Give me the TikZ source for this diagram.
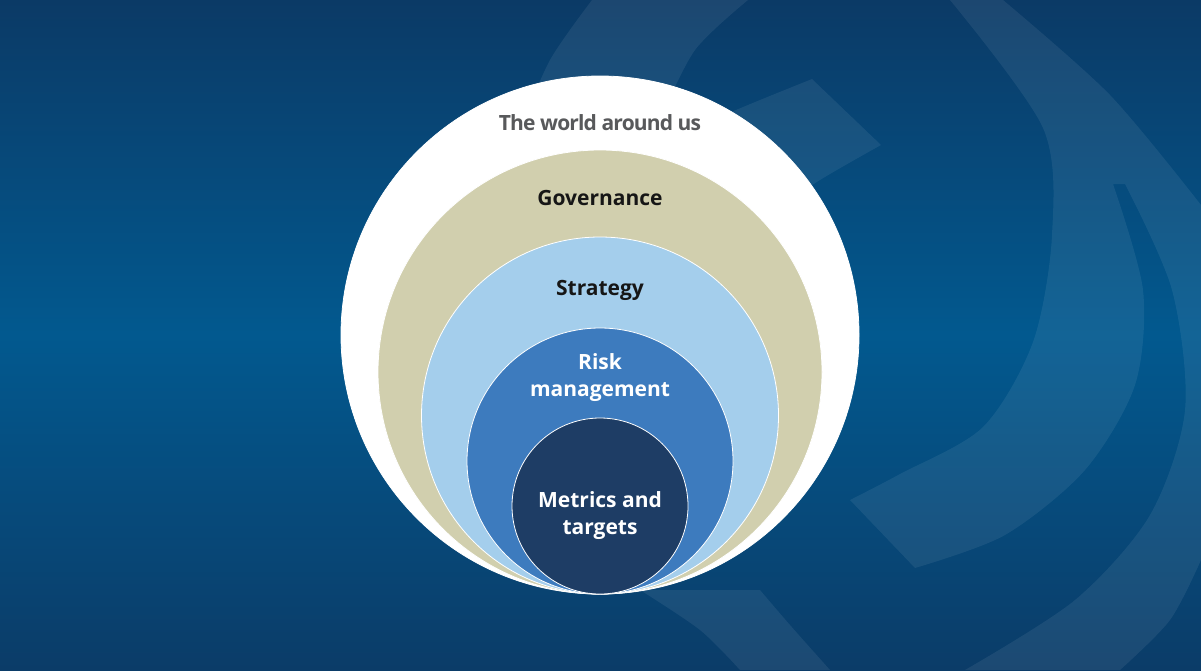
\documentclass[tikz,border=0pt]{standalone}
\usepackage{fontspec}
\setmainfont{Open Sans}
\definecolor{bgtop}{HTML}{0B3A66}
\definecolor{bgmid}{HTML}{02598F}
\definecolor{bgbot}{HTML}{0B3C68}
\definecolor{govc}{HTML}{D1CFAE}
\definecolor{stratc}{HTML}{A4CEEC}
\definecolor{riskc}{HTML}{3D7BBE}
\definecolor{metc}{HTML}{1E3D65}
\definecolor{worldtxt}{HTML}{58595B}
\definecolor{darktxt}{HTML}{161616}
\tikzset{
  ring/.style={circle, inner sep=0pt, outer sep=0pt, draw=white, line width=0.8pt},
  lbl/.style={font=\bfseries\fontsize{21}{25}\selectfont, anchor=base, inner sep=0pt},
  deco/.style={fill=white, opacity=0.07}
}
\begin{document}
\begin{tikzpicture}[x=1pt,y=-1pt]
\useasboundingbox (0,0) rectangle (1201,670);
\shade[top color=bgtop, bottom color=bgbot, middle color=bgmid] (0,0) rectangle (1201,670);
\begin{scope}
\clip (0,0) rectangle (1201,670);
% decorative crescents
\fill[deco] plot[smooth] coordinates {(950,0) (1043,128) (1052,235) (1033,342) (983,427) (900,474) (850,500)}
  -- (915,568)
  -- plot[smooth] coordinates {(915,568) (1005,535) (1085,470) (1135,385) (1143,290) (1113,184)}
  -- plot[smooth] coordinates {(1125,184) (1172,290) (1185,410) (1150,515) (1075,600) (965,670)}
  -- (1120,670)
  -- plot[smooth] coordinates {(1120,670) (1170,620) (1201,560)}
  -- (1201,205)
  -- plot[smooth] coordinates {(1201,205) (1110,95) (1003,0)} -- cycle;
\fill[deco] plot[smooth] coordinates {(520,130) (550,60) (592,0)} -- (748,0)
  -- plot[smooth] coordinates {(748,0) (695,50) (660,120)} -- cycle;
\fill[deco] plot[smooth] coordinates {(700,125) (760,100) (812,79)} -- (881,145)
  -- plot[smooth] coordinates {(881,145) (820,180) (760,220)} -- cycle;
\fill[deco] plot[smooth] coordinates {(640,590) (700,630) (740,670)} -- (830,670)
  -- plot[smooth] coordinates {(830,670) (790,625) (760,590)} -- cycle;
\end{scope}
% nested circles
\node[ring, fill=white, minimum size=518pt] (world) at (600,335) {};
\node[ring, fill=govc, minimum size=444pt] (gov) at (600,372) {};
\node[ring, fill=stratc, minimum size=357pt] (strat) at (600,415.5) {};
\node[ring, fill=riskc, minimum size=266pt] (risk) at (600,461) {};
\node[ring, fill=metc, minimum size=176pt] (met) at (600,506) {};
% labels
\node[lbl, font=\bfseries\fontsize{21}{25}\selectfont\addfontfeature{LetterSpace=-4}, text=worldtxt] (tworld) at (600,130) {The world around us};
\node[lbl, text=darktxt] (tgov) at (600,205) {Governance};
\node[lbl, text=darktxt] (tstrat) at (600,295) {Strategy};
\node[lbl, text=white] (trisk1) at (600,369) {Risk};
\node[lbl, text=white] (trisk2) at (600,396) {management};
\node[lbl, text=white] (tmet1) at (600,507) {Metrics and};
\node[lbl, text=white] (tmet2) at (600,534) {targets};
\end{tikzpicture}
\end{document}
